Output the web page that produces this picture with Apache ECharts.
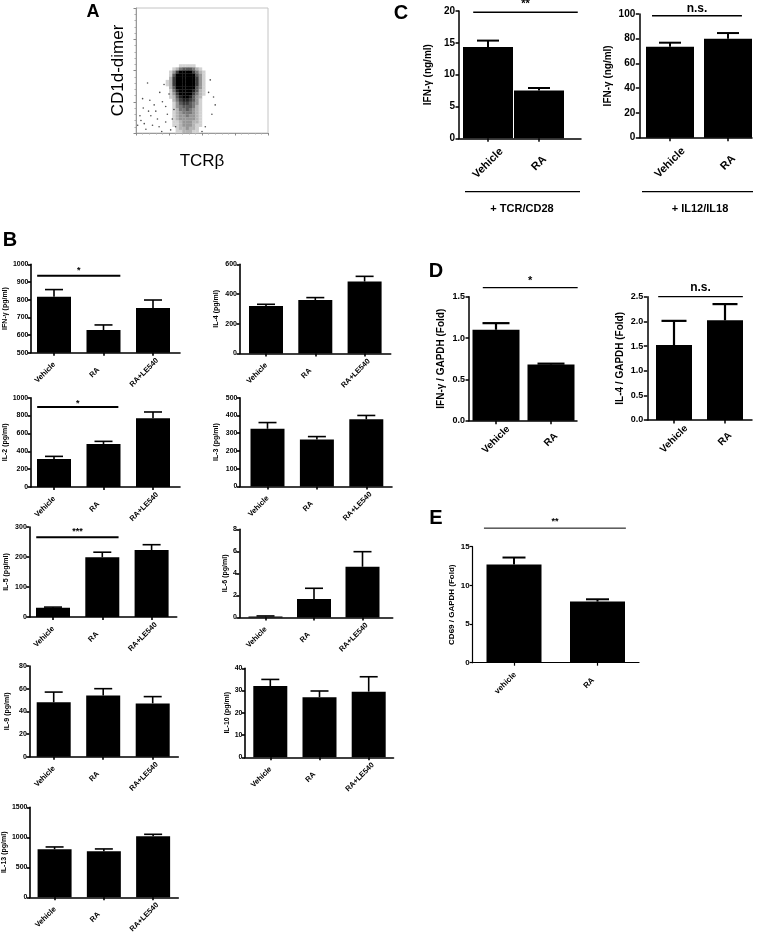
<!DOCTYPE html>
<html>
<head>
<meta charset="utf-8">
<script src="https://cdn.jsdelivr.net/npm/echarts@6/dist/echarts.min.js"></script>
<style>
  html, body { margin: 0; padding: 0; background: #fff; }
  #main { width: 758px; height: 938px; }
</style>
</head>
<body>
<div id="main"></div>
<script>
var FONT = '"Liberation Sans", Arial, sans-serif';

// ---- A: CD1d-dimer vs TCRb dot plot, decades, density ----
var cloudX = [0.95, 1.05, 1.15, 1.25, 1.35, 1.45, 1.55, 1.65, 1.75, 1.85, 1.95, 2.05, 2.15, 2.25];
var cloudY = [2.15, 2.05, 1.95, 1.85, 1.75, 1.65, 1.55, 1.45, 1.35, 1.25, 1.15,
              1.05, 0.95, 0.85, 0.75, 0.65, 0.55, 0.45, 0.35, 0.25, 0.15, 0.05];
var cloudDensity = [
  [0, 0, 0, 0, 1, 1, 1, 1, 1, 0, 0, 0, 0, 0],
  [0, 0, 1, 2, 4, 5, 5, 5, 4, 2, 1, 0, 0, 0],
  [0, 1, 3, 6, 8, 8, 8, 8, 6, 4, 2, 1, 0, 0],
  [0, 1, 5, 8, 9, 9, 9, 9, 8, 5, 3, 1, 0, 0],
  [0, 2, 6, 9, 9, 9, 9, 9, 8, 6, 3, 1, 0, 0],
  [1, 2, 6, 9, 9, 9, 9, 9, 8, 6, 3, 1, 0, 0],
  [1, 2, 6, 9, 9, 9, 9, 9, 8, 6, 3, 1, 0, 0],
  [0, 2, 5, 8, 9, 9, 9, 9, 8, 5, 3, 1, 0, 0],
  [0, 1, 4, 7, 9, 9, 9, 8, 7, 5, 2, 1, 0, 0],
  [0, 1, 3, 6, 8, 9, 9, 8, 6, 4, 2, 1, 0, 0],
  [0, 1, 2, 5, 7, 8, 8, 7, 5, 3, 2, 0, 0, 0],
  [0, 0, 2, 4, 6, 7, 7, 6, 5, 3, 1, 0, 0, 0],
  [0, 0, 1, 3, 5, 6, 6, 5, 4, 3, 1, 0, 0, 0],
  [0, 0, 1, 3, 4, 5, 5, 5, 4, 2, 1, 0, 0, 0],
  [0, 0, 1, 2, 4, 4, 5, 4, 3, 2, 1, 0, 0, 0],
  [0, 0, 1, 2, 3, 4, 4, 4, 3, 2, 1, 0, 0, 0],
  [0, 0, 1, 2, 3, 3, 4, 3, 3, 2, 1, 0, 0, 0],
  [0, 0, 1, 2, 3, 3, 3, 3, 3, 2, 1, 0, 0, 0],
  [0, 0, 1, 1, 2, 3, 3, 3, 2, 2, 1, 0, 0, 0],
  [0, 0, 1, 1, 2, 3, 3, 3, 2, 1, 1, 0, 0, 0],
  [0, 0, 0, 1, 2, 2, 3, 2, 2, 1, 0, 0, 0, 0],
  [0, 0, 0, 1, 1, 2, 2, 2, 1, 1, 0, 0, 0, 0]
];
var sparseDots = [
  [0.35, 1.6], [0.12, 0.55], [0.22, 0.8], [0.6, 0.7], [0.8, 1.0], [0.9, 0.35],
  [0.5, 0.25], [0.7, 0.2], [1.05, 0.1], [0.42, 1.05], [0.25, 0.3], [0.85, 1.55],
  [0.95, 0.6], [0.65, 0.45], [0.3, 0.12], [1.0, 1.25], [0.78, 0.05], [0.15, 0.4],
  [0.55, 0.9], [1.1, 0.45], [2.2, 1.3], [2.3, 0.6], [2.1, 0.2], [2.4, 0.9],
  [0.45, 0.55], [0.9, 0.85], [0.2, 1.1], [1.15, 0.75], [2.25, 1.7], [0.05, 0.25],
  [0.72, 1.3], [1.2, 0.2], [2.0, 0.05], [2.35, 1.15], [0.38, 0.7]
];

// ---- B: cytokines (pg/ml), mean and mean+SEM ----
var groupsB = ['Vehicle', 'RA', 'RA+LE540'];
var ifngB = [817, 628, 753],  ifngBTop = [857, 657, 798];
var il4B  = [320, 360, 484],  il4BTop  = [331, 376, 519];
var il2B  = [313, 481, 769],  il2BTop  = [343, 511, 840];
var il3B  = [325, 265, 378],  il3BTop  = [360, 281, 400];
var il5B  = [31, 199, 223],   il5BTop  = [33, 216, 241];
var il6B  = [0.1, 1.67, 4.6], il6BTop  = [0.14, 2.65, 5.97];
var il9B  = [48, 54, 47],     il9BTop  = [57, 60, 53];
var il10B = [32, 27, 29.5],   il10BTop = [35, 29.8, 36.2];
var il13B = [800, 767, 1017], il13BTop = [839, 806, 1050];

// ---- C: IFN-g (ng/ml) ----
var groupsC = ['Vehicle', 'RA'];
var ifngTcr  = [14.35, 7.5], ifngTcrTop  = [15.35, 7.9];
var ifngIl12 = [73.6, 80],   ifngIl12Top = [76.8, 84.6];

// ---- D: mRNA / GAPDH (fold) ----
var ifngD = [1.1, 0.68], ifngDTop = [1.18, 0.69];
var il4D  = [1.52, 2.02], il4DTop = [2.01, 2.35];

// ---- E: CD69 / GAPDH (fold) ----
var groupsE = ['vehicle', 'RA'];
var cd69E = [12.7, 7.9], cd69ETop = [13.6, 8.2];

var grids = [], xAxes = [], yAxes = [], series = [];
var plain = function (v) { return String(v); };

function barPanel(o) {
    var gi = grids.length;
    var ticks = o.cats.map(function (c, i) { return i; });
    grids.push({ left: o.x0, top: o.y1, width: o.x1 - o.x0, height: o.y0 - o.y1 });
    xAxes.push({
        gridIndex: gi, type: 'value',
        min: -(o.c0 - o.x0) / o.sp, max: (o.x1 - o.c0) / o.sp,
        splitLine: { show: false },
        axisLine: { onZero: false, lineStyle: { color: '#000', width: o.lw } },
        axisTick: { customValues: ticks, length: o.tl, lineStyle: { color: '#000', width: o.lw } },
        axisLabel: {
            customValues: ticks,
            formatter: function (v) { return o.cats[Math.round(v)] || ''; },
            rotate: 45, align: 'center', verticalAlign: 'middle',
            margin: o.lm, padding: o.lpad || 0,
            fontSize: o.lfs, fontWeight: 'bold', color: '#000', fontFamily: FONT
        }
    });
    yAxes.push({
        gridIndex: gi, type: 'value', min: o.ymin, max: o.ymax, interval: o.yint,
        splitLine: { show: false },
        axisLine: { show: true, onZero: false, lineStyle: { color: '#000', width: o.lw } },
        axisTick: { show: true, length: o.tl, lineStyle: { color: '#000', width: o.lw } },
        axisLabel: {
            margin: o.ym, fontSize: o.yfs, fontWeight: 'bold', color: '#000', fontFamily: FONT,
            formatter: o.fmt || plain
        },
        name: o.name, nameLocation: 'middle', nameGap: o.ng,
        nameTextStyle: { fontSize: o.nfs, fontWeight: 'bold', color: '#000', fontFamily: FONT }
    });
    series.push({
        type: 'bar', xAxisIndex: gi, yAxisIndex: gi, barWidth: o.bw, silent: true,
        itemStyle: { color: '#000' },
        data: o.mean.map(function (v, i) { return [i, v]; })
    });
    series.push({
        type: 'custom', xAxisIndex: gi, yAxisIndex: gi, silent: true, z: 3,
        data: o.mean.map(function (v, i) { return [i, v, o.top[i]]; }),
        renderItem: function (params, api) {
            var p1 = api.coord([api.value(0), api.value(1)]);
            var p2 = api.coord([api.value(0), api.value(2)]);
            var st = { stroke: '#000', lineWidth: o.ew };
            return {
                type: 'group', children: [
                    { type: 'line', shape: { x1: p1[0], y1: p1[1], x2: p2[0], y2: p2[1] }, style: st },
                    { type: 'line', shape: { x1: p2[0] - o.cap / 2, y1: p2[1], x2: p2[0] + o.cap / 2, y2: p2[1] }, style: st }
                ]
            };
        }
    });
    if (o.sig) {
        var s = o.sig;
        series.push({
            type: 'custom', xAxisIndex: gi, yAxisIndex: gi, silent: true, clip: false, z: 4,
            data: [[s.from, s.to, s.y]],
            renderItem: function (params, api) {
                var a = api.coord([api.value(0), api.value(2)]);
                var b = api.coord([api.value(1), api.value(2)]);
                return {
                    type: 'group', children: [
                        { type: 'line', shape: { x1: a[0], y1: a[1], x2: b[0], y2: b[1] }, style: { stroke: '#000', lineWidth: s.lw } },
                        { type: 'text', x: (a[0] + b[0]) / 2, y: a[1] - s.gap,
                          style: { text: s.text, fill: '#000', align: 'center', verticalAlign: 'bottom',
                                   font: 'bold ' + s.fs + 'px ' + FONT } }
                    ]
                };
            }
        });
    }
}

// B panels, left column
var B = { cats: groupsB, lw: 1.6, tl: 3, ym: 2.5, yfs: 7, nfs: 7, lfs: 7.5, lm: 11, lpad: [0, 25, 0, 0], bw: 34, cap: 18, ew: 1.6 };
function withB(o) { var r = {}; for (var k in B) r[k] = B[k]; for (var k2 in o) r[k2] = o[k2]; return r; }

barPanel(withB({ mean: ifngB, top: ifngBTop, x0: 31, x1: 180, c0: 54, sp: 49.5, y1: 264.3, y0: 352.7,
    ymin: 500, ymax: 1000, yint: 100, name: 'IFN-γ (pg/ml)', ng: 21.5,
    sig: { from: -0.34, to: 1.34, y: 935, text: '*', fs: 9, gap: 1, lw: 2 } }));
barPanel(withB({ mean: il2B, top: il2BTop, x0: 30.7, x1: 180, c0: 54, sp: 49.5, y1: 397.7, y0: 487,
    ymin: 0, ymax: 1000, yint: 200, name: 'IL-2 (pg/ml)', ng: 22.5,
    sig: { from: -0.34, to: 1.3, y: 896, text: '*', fs: 9, gap: -1, lw: 2 } }));
barPanel(withB({ mean: il5B, top: il5BTop, x0: 29.3, x1: 176.7, c0: 53, sp: 49.3, y1: 527, y0: 617,
    ymin: 0, ymax: 300, yint: 100, name: 'IL-5 (pg/ml)', ng: 20,
    sig: { from: -0.34, to: 1.33, y: 265.7, text: '***', fs: 9, gap: 1, lw: 2 } }));
barPanel(withB({ mean: il9B, top: il9BTop, x0: 29.3, x1: 178.3, c0: 53.7, sp: 49.5, y1: 666, y0: 756.7,
    ymin: 0, ymax: 80, yint: 20, name: 'IL-9 (pg/ml)', ng: 19 }));
barPanel(withB({ mean: il13B, top: il13BTop, x0: 29.3, x1: 178.3, c0: 54, sp: 49.5, y1: 807.3, y0: 897.3,
    ymin: 0, ymax: 1500, yint: 500, name: 'IL-13 (pg/ml)', ng: 22 }));
// B panels, right column
barPanel(withB({ mean: il4B, top: il4BTop, x0: 239.5, x1: 390.7, c0: 266, sp: 49.3, y1: 264.3, y0: 353.5,
    ymin: 0, ymax: 600, yint: 200, name: 'IL-4 (pg/ml)', ng: 20 }));
barPanel(withB({ mean: il3B, top: il3BTop, x0: 240, x1: 392, c0: 267.5, sp: 49.4, y1: 397.7, y0: 486.5,
    ymin: 0, ymax: 500, yint: 100, name: 'IL-3 (pg/ml)', ng: 20 }));
barPanel(withB({ mean: il6B, top: il6BTop, x0: 239.3, x1: 392.7, c0: 265.5, sp: 48.5, y1: 529.3, y0: 617.5,
    ymin: 0, ymax: 8, yint: 2, name: 'IL-6 (pg/ml)', ng: 6 }));
barPanel(withB({ mean: il10B, top: il10BTop, x0: 245, x1: 393.5, c0: 270.3, sp: 49.2, y1: 668.3, y0: 757.3,
    ymin: 0, ymax: 40, yint: 10, name: 'IL-10 (pg/ml)', ng: 11.5 }));

// C panels
barPanel({ cats: groupsC, mean: ifngTcr, top: ifngTcrTop, x0: 459, x1: 581, c0: 488, sp: 51, y1: 11, y0: 138.3,
    ymin: 0, ymax: 20, yint: 5, name: 'IFN-γ (ng/ml)', ng: 26, nfs: 10, yfs: 10, ym: 4, lfs: 11, lm: 25,
    lw: 1.5, tl: 3.5, bw: 50, cap: 22, ew: 2,
    sig: { from: -0.29, to: 1.76, y: 19.8, text: '**', fs: 11, gap: 3, lw: 1.3 } });
barPanel({ cats: groupsC, mean: ifngIl12, top: ifngIl12Top, x0: 639.3, x1: 752, c0: 670, sp: 58, y1: 14, y0: 137.7,
    ymin: 0, ymax: 100, yint: 20, name: 'IFN-γ (ng/ml)', ng: 26, nfs: 10, yfs: 10, ym: 4, lfs: 11, lm: 25,
    lw: 1.5, tl: 3.5, bw: 48, cap: 22, ew: 2,
    sig: { from: -0.31, to: 1.24, y: 98.6, text: 'n.s.', fs: 12, gap: 1, lw: 1.3 } });

// D panels
var fmt1 = function (v) { return v.toFixed(1); };
barPanel({ cats: groupsC, mean: ifngD, top: ifngDTop, x0: 469, x1: 577, c0: 496, sp: 55, y1: 296.7, y0: 420.7,
    ymin: 0, ymax: 1.5, yint: 0.5, fmt: fmt1, name: 'IFN-γ / GAPDH (Fold)', ng: 23, nfs: 10, yfs: 9, ym: 4,
    lfs: 10, lm: 19, lw: 1.5, tl: 3.5, bw: 47, cap: 27, ew: 2.2,
    sig: { from: -0.24, to: 1.485, y: 1.609, text: '*', fs: 11, gap: 1, lw: 1.3 } });
barPanel({ cats: groupsC, mean: il4D, top: il4DTop, x0: 647.3, x1: 752, c0: 674, sp: 51, y1: 296.7, y0: 420,
    ymin: 0, ymax: 2.5, yint: 0.5, fmt: fmt1, name: 'IL-4 / GAPDH (Fold)', ng: 22, nfs: 10, yfs: 9, ym: 4,
    lfs: 10, lm: 19, lw: 1.5, tl: 3.5, bw: 36, cap: 25, ew: 2.2,
    sig: { from: -0.31, to: 1.35, y: 2.5, text: 'n.s.', fs: 12, gap: 3, lw: 1.3 } });

// E panel
barPanel({ cats: groupsE, mean: cd69E, top: cd69ETop, x0: 472.7, x1: 639, c0: 514, sp: 83.5, y1: 546.7, y0: 662.7,
    ymin: 0, ymax: 15, yint: 5, name: 'CD69 / GAPDH (Fold)', ng: 17, nfs: 8, yfs: 8, ym: 3,
    lfs: 8, lm: 12, lpad: [0, 24, 0, 0], lw: 1.2, tl: 3, bw: 55, cap: 23, ew: 2,
    sig: { from: -0.36, to: 1.34, y: 17.4, text: '**', fs: 9, gap: 2, lw: 1 } });

// A panel (flow plot)
var ga = grids.length;
grids.push({ left: 136, top: 8, width: 132, height: 125, show: true, borderColor: '#c4c4c4', borderWidth: 1 });
xAxes.push({
    gridIndex: ga, type: 'value', min: 0, max: 4, interval: 1, splitLine: { show: false },
    axisLine: { onZero: false, lineStyle: { color: '#9a9a9a', width: 1 } },
    axisTick: { length: 2.5, lineStyle: { color: '#888' } },
    minorTick: { show: true, splitNumber: 5, length: 1.5, lineStyle: { color: '#aaa' } },
    axisLabel: { show: false },
    name: 'TCRβ', nameLocation: 'middle', nameGap: 20,
    nameTextStyle: { fontSize: 17, color: '#000', fontFamily: FONT }
});
yAxes.push({
    gridIndex: ga, type: 'value', min: 0, max: 4, interval: 1, splitLine: { show: false },
    axisLine: { show: true, onZero: false, lineStyle: { color: '#9a9a9a', width: 1 } },
    axisTick: { show: true, length: 2.5, lineStyle: { color: '#888' } },
    minorTick: { show: true, splitNumber: 5, length: 1.5, lineStyle: { color: '#aaa' } },
    axisLabel: { show: false },
    name: 'CD1d-dimer', nameLocation: 'middle', nameGap: 9,
    nameTextStyle: { fontSize: 17, color: '#000', fontFamily: FONT }
});
var cloudCells = [];
cloudY.forEach(function (y, r) {
    cloudX.forEach(function (x, c) {
        if (cloudDensity[r][c] > 0) cloudCells.push([x, y, cloudDensity[r][c]]);
    });
});
series.push({
    type: 'custom', xAxisIndex: ga, yAxisIndex: ga, silent: true, data: cloudCells,
    renderItem: function (params, api) {
        var p = api.coord([api.value(0) - 0.05, api.value(1) + 0.05]);
        var s = api.size([0.1, 0.1]);
        var g = Math.max(0, Math.round(240 - api.value(2) * 30));
        return { type: 'rect', shape: { x: p[0], y: p[1], width: s[0] + 0.2, height: s[1] + 0.2 },
                 style: { fill: 'rgb(' + g + ',' + g + ',' + g + ')' } };
    }
});
series.push({
    type: 'scatter', xAxisIndex: ga, yAxisIndex: ga, silent: true, symbolSize: 1.6,
    itemStyle: { color: '#222' }, data: sparseDots
});

var myChart = echarts.init(document.getElementById('main'), null, { renderer: 'canvas' });
myChart.setOption({
    animation: false,
    backgroundColor: '#fff',
    grid: grids, xAxis: xAxes, yAxis: yAxes, series: series,
    graphic: [
        { type: 'text', x: 93, y: 12, style: { text: 'A', font: 'bold 18px ' + FONT, fill: '#000', align: 'center', verticalAlign: 'middle' } },
        { type: 'text', x: 10, y: 240, style: { text: 'B', font: 'bold 20px ' + FONT, fill: '#000', align: 'center', verticalAlign: 'middle' } },
        { type: 'text', x: 401, y: 13, style: { text: 'C', font: 'bold 20px ' + FONT, fill: '#000', align: 'center', verticalAlign: 'middle' } },
        { type: 'text', x: 436, y: 271, style: { text: 'D', font: 'bold 20px ' + FONT, fill: '#000', align: 'center', verticalAlign: 'middle' } },
        { type: 'text', x: 436, y: 518, style: { text: 'E', font: 'bold 20px ' + FONT, fill: '#000', align: 'center', verticalAlign: 'middle' } },
        { type: 'line', shape: { x1: 465, y1: 191.7, x2: 580, y2: 191.7 }, style: { stroke: '#000', lineWidth: 1.3 } },
        { type: 'line', shape: { x1: 642, y1: 191.7, x2: 753, y2: 191.7 }, style: { stroke: '#000', lineWidth: 1.3 } },
        { type: 'text', x: 522, y: 209, style: { text: '+ TCR/CD28', font: 'bold 11px ' + FONT, fill: '#000', align: 'center', verticalAlign: 'middle' } },
        { type: 'text', x: 700, y: 209, style: { text: '+ IL12/IL18', font: 'bold 11px ' + FONT, fill: '#000', align: 'center', verticalAlign: 'middle' } }
    ]
});
</script>
</body>
</html>
